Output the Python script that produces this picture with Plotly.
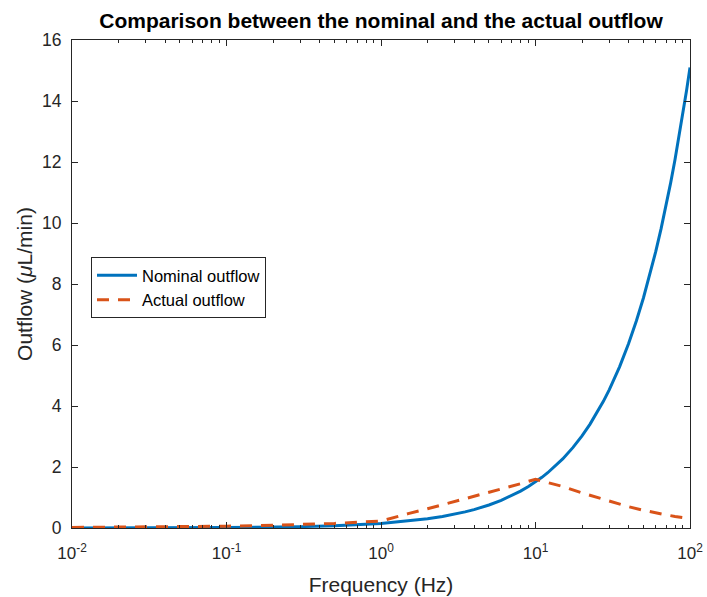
import plotly.graph_objects as go

# Nominal outflow
freq_nominal = [0.01, 0.03, 0.1, 0.3, 0.5, 1, 1.5, 2, 2.5, 3, 3.5, 4, 5, 6, 7, 8, 9, 10,
                11, 12, 13, 14, 15, 17.5, 20, 22.5, 25, 27.5, 30, 35, 40, 45, 50, 55,
                60, 65, 70, 75, 80, 85, 90, 95, 100]
nominal_outflow = [0.0015, 0.0045, 0.015, 0.045, 0.075, 0.151, 0.227, 0.302, 0.378,
                   0.453, 0.529, 0.604, 0.755, 0.906, 1.057, 1.208, 1.359, 1.51,
                   1.661, 1.812, 1.963, 2.114, 2.265, 2.643, 3.02, 3.398, 3.775, 4.153,
                   4.53, 5.285, 6.04, 6.795, 7.55, 8.305, 9.06, 9.815, 10.57, 11.325,
                   12.08, 12.835, 13.59, 14.345, 15.1]

# Actual outflow
freq_actual = [0.01, 0.02, 0.05, 0.1, 0.2, 0.5, 1, 1.25, 1.5, 2, 2.5, 3, 4, 5, 6, 7,
               8, 9, 10, 12, 15, 20, 25, 30, 40, 50, 60, 70, 80, 90, 100]
actual_outflow = [0.02, 0.025, 0.04, 0.06, 0.09, 0.15, 0.23, 0.37, 0.47, 0.63, 0.76,
                  0.87, 1.03, 1.16, 1.27, 1.36, 1.45, 1.53, 1.60, 1.49, 1.36, 1.15,
                  1.0, 0.88, 0.70, 0.58, 0.49, 0.43, 0.38, 0.34, 0.31]

x_tickvals = [0.01, 0.1, 1, 10, 100]
x_ticktext = ["10<sup>-2</sup>", "10<sup>-1</sup>", "10<sup>0</sup>", "10<sup>1</sup>", "10<sup>2</sup>"]
x_minor_tickvals = [k * 10.0 ** e for e in (-2, -1, 0, 1) for k in range(2, 10)]
y_tickvals = [0, 2, 4, 6, 8, 10, 12, 14, 16]

AX = "#262626"
FONT = "Liberation Sans, Arial, Helvetica, sans-serif"

fig = go.Figure()
fig.add_trace(go.Scatter(x=freq_nominal, y=nominal_outflow, mode="lines",
                         name="Nominal outflow", legendgroup="a",
                         line=dict(color="#0072BD", width=3)))
fig.add_trace(go.Scatter(x=freq_actual, y=actual_outflow, mode="lines",
                         name="Actual outflow", legendgroup="b",
                         line=dict(color="#D95319", width=3, dash="12px,9px")))

fig.update_layout(
    width=707, height=597,
    margin=dict(l=72, r=17, t=40, b=69, autoexpand=False),
    paper_bgcolor="white", plot_bgcolor="white",
    font=dict(family=FONT, color=AX, size=17),
    title=dict(text="<b>Comparison between the nominal and the actual outflow</b>",
               x=(72 + 690) / 2 / 707, xanchor="center",
               y=1 - 21 / 597, yanchor="middle", yref="container",
               font=dict(size=21, color="black", family=FONT)),
    showlegend=True,
    legend=dict(x=(91 - 72) / 618, y=(528 - 257) / 488, xanchor="left", yanchor="top",
                bgcolor="white", bordercolor=AX, borderwidth=1,
                font=dict(size=16.5, color="black", family=FONT),
                tracegroupgap=0, itemwidth=40),
)

fig.update_xaxes(type="log", range=[-2, 2], automargin=False,
                 tickvals=x_tickvals, ticktext=x_ticktext,
                 ticks="inside", ticklen=6, tickcolor=AX, tickwidth=1,
                 showline=True, linecolor=AX, linewidth=1, mirror="allticks",
                 showgrid=False, zeroline=False,
                 minor=dict(tickvals=x_minor_tickvals, ticks="inside", ticklen=3,
                            tickcolor=AX, showgrid=False),
                 tickfont=dict(size=17, color=AX), ticklabelstandoff=10,
                 title=dict(text="Frequency (Hz)", font=dict(size=21, color=AX), standoff=14))
fig.update_yaxes(range=[0, 16], tickvals=y_tickvals, automargin=False,
                 ticks="inside", ticklen=6, tickcolor=AX, tickwidth=1,
                 showline=True, linecolor=AX, linewidth=1, mirror="allticks",
                 showgrid=False, zeroline=False,
                 tickfont=dict(size=17.5, color=AX), ticklabelstandoff=6,
                 title=dict(text="Outflow (<i>μ</i>L/min)", font=dict(size=21, color=AX), standoff=3))

fig.write_html("out.html", config={"displayModeBar": False},
               post_script="document.body.style.margin='0';")
